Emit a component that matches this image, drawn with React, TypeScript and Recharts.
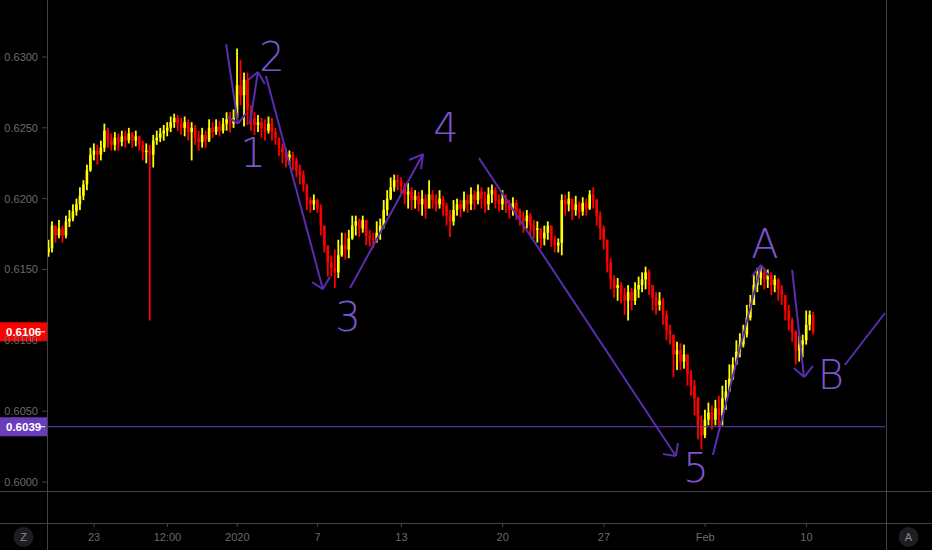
import React from 'react';
import { ComposedChart, Bar, XAxis, YAxis, ReferenceLine, ReferenceDot } from 'recharts';

// ---- data (AUD/USD-style candles) ----
const firstOpen = 0.6162;
const closes = [
  0.6165, 0.6181, 0.6174, 0.6179, 0.6174, 0.6184, 0.6186, 0.6191, 0.6196, 0.6202,
  0.6210, 0.6220, 0.6231, 0.6234, 0.6231, 0.6236, 0.6248, 0.6241, 0.6238, 0.6243,
  0.6240, 0.6244, 0.6241, 0.6246, 0.6241, 0.6244, 0.6238, 0.6233, 0.6234, 0.6231,
  0.6241, 0.6243, 0.6246, 0.6248, 0.6250, 0.6254, 0.6257, 0.6253, 0.6250, 0.6254,
  0.6247, 0.6250, 0.6243, 0.6240, 0.6245, 0.6241, 0.6250, 0.6247, 0.6251, 0.6248,
  0.6253, 0.6256, 0.6253, 0.6257, 0.6280, 0.6273, 0.6284, 0.6263, 0.6257, 0.6252,
  0.6254, 0.6250, 0.6248, 0.6253, 0.6247, 0.6243, 0.6236, 0.6233, 0.6229, 0.6231,
  0.6227, 0.6220, 0.6217, 0.6210, 0.6199, 0.6196, 0.6199, 0.6193, 0.6181, 0.6167,
  0.6155, 0.6151, 0.6148, 0.6160, 0.6167, 0.6164, 0.6172, 0.6181, 0.6184, 0.6179,
  0.6185, 0.6174, 0.6172, 0.6171, 0.6176, 0.6181, 0.6192, 0.6200, 0.6208, 0.6213,
  0.6212, 0.6209, 0.6203, 0.6205, 0.6199, 0.6202, 0.6196, 0.6200, 0.6193, 0.6203,
  0.6199, 0.6196, 0.6200, 0.6195, 0.6188, 0.6184, 0.6192, 0.6196, 0.6193, 0.6199,
  0.6196, 0.6203, 0.6199, 0.6205, 0.6200, 0.6196, 0.6203, 0.6206, 0.6199, 0.6196,
  0.6200, 0.6196, 0.6192, 0.6197, 0.6191, 0.6186, 0.6184, 0.6188, 0.6181, 0.6178,
  0.6179, 0.6172, 0.6176, 0.6181, 0.6171, 0.6167, 0.6169, 0.6199, 0.6196, 0.6200,
  0.6192, 0.6196, 0.6191, 0.6197, 0.6193, 0.6203, 0.6199, 0.6188, 0.6179, 0.6171,
  0.6155, 0.6143, 0.6137, 0.6139, 0.6132, 0.6128, 0.6134, 0.6128, 0.6136, 0.6139,
  0.6143, 0.6148, 0.6139, 0.6130, 0.6125, 0.6128, 0.6118, 0.6107, 0.6104, 0.6090,
  0.6093, 0.6085, 0.6090, 0.6076, 0.6068, 0.6059, 0.6040, 0.6033, 0.6044, 0.6049,
  0.6044, 0.6052, 0.6047, 0.6059, 0.6064, 0.6073, 0.6083, 0.6092, 0.6097, 0.6104,
  0.6116, 0.6125, 0.6139, 0.6144, 0.6148, 0.6143, 0.6146, 0.6139, 0.6143, 0.6136,
  0.6132, 0.6121, 0.6114, 0.6106, 0.6093, 0.6097, 0.6100, 0.6111, 0.6118, 0.6106,
];
const highs = [
  0.6171, 0.6184, 0.6181, 0.6185, 0.6181, 0.6188, 0.6192, 0.6196, 0.6200, 0.6208,
  0.6213, 0.6224, 0.6236, 0.6239, 0.6238, 0.6241, 0.6253, 0.6250, 0.6246, 0.6247,
  0.6246, 0.6248, 0.6248, 0.6250, 0.6247, 0.6248, 0.6244, 0.6241, 0.6239, 0.6238,
  0.6245, 0.6248, 0.6250, 0.6252, 0.6254, 0.6258, 0.6260, 0.6259, 0.6257, 0.6258,
  0.6256, 0.6254, 0.6252, 0.6248, 0.6250, 0.6248, 0.6256, 0.6254, 0.6256, 0.6255,
  0.6257, 0.6261, 0.6261, 0.6263, 0.6306, 0.6298, 0.6289, 0.6289, 0.6266, 0.6261,
  0.6259, 0.6257, 0.6256, 0.6258, 0.6257, 0.6250, 0.6243, 0.6239, 0.6236, 0.6234,
  0.6233, 0.6229, 0.6224, 0.6220, 0.6210, 0.6201, 0.6203, 0.6200, 0.6196, 0.6181,
  0.6167, 0.6160, 0.6164, 0.6171, 0.6176, 0.6176, 0.6178, 0.6188, 0.6188, 0.6186,
  0.6188, 0.6185, 0.6178, 0.6176, 0.6184, 0.6186, 0.6199, 0.6206, 0.6215, 0.6217,
  0.6217, 0.6215, 0.6211, 0.6211, 0.6208, 0.6206, 0.6205, 0.6206, 0.6203, 0.6213,
  0.6206, 0.6203, 0.6206, 0.6202, 0.6197, 0.6192, 0.6199, 0.6200, 0.6199, 0.6205,
  0.6203, 0.6208, 0.6206, 0.6210, 0.6208, 0.6205, 0.6208, 0.6210, 0.6208, 0.6203,
  0.6206, 0.6203, 0.6199, 0.6201, 0.6199, 0.6193, 0.6191, 0.6192, 0.6190, 0.6185,
  0.6184, 0.6179, 0.6181, 0.6184, 0.6181, 0.6174, 0.6172, 0.6203, 0.6203, 0.6205,
  0.6200, 0.6202, 0.6198, 0.6201, 0.6200, 0.6206, 0.6208, 0.6200, 0.6191, 0.6181,
  0.6171, 0.6158, 0.6146, 0.6144, 0.6141, 0.6137, 0.6139, 0.6137, 0.6141, 0.6145,
  0.6148, 0.6152, 0.6150, 0.6139, 0.6134, 0.6134, 0.6130, 0.6121, 0.6111, 0.6104,
  0.6099, 0.6098, 0.6097, 0.6090, 0.6079, 0.6072, 0.6060, 0.6047, 0.6051, 0.6056,
  0.6054, 0.6058, 0.6061, 0.6068, 0.6072, 0.6083, 0.6088, 0.6100, 0.6105, 0.6111,
  0.6125, 0.6132, 0.6146, 0.6151, 0.6153, 0.6151, 0.6150, 0.6148, 0.6146, 0.6144,
  0.6139, 0.6132, 0.6125, 0.6116, 0.6107, 0.6103, 0.6104, 0.6121, 0.6121, 0.6120,
];
const lows = [
  0.6159, 0.6162, 0.6169, 0.6172, 0.6169, 0.6172, 0.6180, 0.6184, 0.6188, 0.6192,
  0.6199, 0.6206, 0.6219, 0.6227, 0.6224, 0.6227, 0.6233, 0.6236, 0.6234, 0.6234,
  0.6234, 0.6237, 0.6236, 0.6239, 0.6236, 0.6237, 0.6234, 0.6227, 0.6225, 0.6114,
  0.6222, 0.6238, 0.6240, 0.6241, 0.6244, 0.6247, 0.6250, 0.6248, 0.6245, 0.6244,
  0.6241, 0.6227, 0.6238, 0.6234, 0.6236, 0.6236, 0.6240, 0.6243, 0.6245, 0.6244,
  0.6246, 0.6248, 0.6247, 0.6250, 0.6256, 0.6266, 0.6251, 0.6252, 0.6248, 0.6245,
  0.6247, 0.6243, 0.6241, 0.6246, 0.6241, 0.6238, 0.6230, 0.6225, 0.6222, 0.6224,
  0.6220, 0.6215, 0.6210, 0.6205, 0.6192, 0.6190, 0.6192, 0.6190, 0.6174, 0.6162,
  0.6145, 0.6145, 0.6137, 0.6144, 0.6159, 0.6157, 0.6158, 0.6171, 0.6174, 0.6173,
  0.6176, 0.6167, 0.6166, 0.6165, 0.6169, 0.6171, 0.6179, 0.6188, 0.6199, 0.6205,
  0.6206, 0.6204, 0.6196, 0.6193, 0.6192, 0.6193, 0.6191, 0.6188, 0.6186, 0.6196,
  0.6193, 0.6191, 0.6193, 0.6188, 0.6181, 0.6173, 0.6181, 0.6188, 0.6187, 0.6191,
  0.6190, 0.6192, 0.6192, 0.6196, 0.6193, 0.6190, 0.6192, 0.6197, 0.6193, 0.6191,
  0.6192, 0.6190, 0.6186, 0.6188, 0.6185, 0.6181, 0.6176, 0.6179, 0.6174, 0.6172,
  0.6169, 0.6165, 0.6167, 0.6171, 0.6166, 0.6162, 0.6162, 0.6160, 0.6188, 0.6191,
  0.6185, 0.6188, 0.6186, 0.6188, 0.6188, 0.6192, 0.6193, 0.6181, 0.6171, 0.6164,
  0.6148, 0.6136, 0.6130, 0.6128, 0.6126, 0.6118, 0.6114, 0.6121, 0.6125, 0.6130,
  0.6134, 0.6136, 0.6132, 0.6121, 0.6118, 0.6121, 0.6111, 0.6100, 0.6097, 0.6074,
  0.6079, 0.6079, 0.6080, 0.6068, 0.6061, 0.6047, 0.6030, 0.6023, 0.6031, 0.6040,
  0.6037, 0.6040, 0.6039, 0.6040, 0.6051, 0.6064, 0.6072, 0.6083, 0.6088, 0.6095,
  0.6102, 0.6114, 0.6125, 0.6134, 0.6139, 0.6136, 0.6137, 0.6132, 0.6134, 0.6128,
  0.6125, 0.6114, 0.6107, 0.6099, 0.6083, 0.6085, 0.6088, 0.6097, 0.6107, 0.6104,
];

const totalSlots = 240; // candle slots incl. empty space on the right
const xTickIndex = [13, 34, 54, 77, 101, 130, 159, 188, 217];
const xTickLabels = ['23', '12:00', '2020', '7', '13', '20', '27', 'Feb', '10'];
const priceTicks = [0.6, 0.605, 0.61, 0.615, 0.62, 0.625, 0.63];
const priceDomain = [0.597106, 0.634024];
const markedLevel = 0.6039;

// wave drawing segments: [index1, price1, index2, price2]
const waveSegments = [
  [50.8, 0.6309, 54.2, 0.6253],
  [51.3, 0.62577, 54.2, 0.6253],
  [54.2, 0.6253, 56.5, 0.6260],
  [57.6, 0.62527, 59.9, 0.62894],
  [57.1, 0.62838, 59.9, 0.62894],
  [59.9, 0.62894, 61.9, 0.62809],
  [62.2, 0.62866, 78.5, 0.61362],
  [75.4, 0.61412, 78.5, 0.61362],
  [78.5, 0.61362, 80.5, 0.61447],
  [86.3, 0.61369, 107.2, 0.62315],
  [103.2, 0.62273, 107.2, 0.62315],
  [107.2, 0.62315, 106.6, 0.62209],
  [123.2, 0.62287, 179.6, 0.60184],
  [175.9, 0.60198, 179.6, 0.60184],
  [180.2, 0.60275, 179.6, 0.60184],
  [190.2, 0.60191, 204.0, 0.61532],
  [201.4, 0.61454, 204.0, 0.61532],
  [204.0, 0.61532, 206.3, 0.61454],
  [212.9, 0.61497, 216.3, 0.60741],
  [213.4, 0.60805, 216.3, 0.60741],
  [216.3, 0.60741, 218.9, 0.60819],
  [228.0, 0.60826, 239.5, 0.61193],
];
const waveLabelText = ['1', '2', '3', '4', '5', 'A', 'B'];
const waveLabelIndex = [58.5, 63.9, 85.7, 113.8, 185.4, 205.1, 224.0];
const waveLabelPrice = [0.62322, 0.6300, 0.61165, 0.62499, 0.60099, 0.6168, 0.60755];

// ---- table for the chart ----
const data = Array.from({ length: totalSlots }, (_, i) => {
  if (i < closes.length) {
    const o = i === 0 ? firstOpen : closes[i - 1];
    return { i, o, c: closes[i], h: highs[i], l: lows[i], range: [lows[i], highs[i]] };
  }
  return { i, range: null };
});
const lastClose = closes[closes.length - 1];

const UP = '#ffff00';
const DOWN = '#ff0000';
const GRID = '#434343';
const AXIS_TEXT = '#6a6a6a';
const WAVE_LINE = '#5a2db0';
const WAVE_TEXT = '#7c55cc';
const LEVEL = '#6a3dbd';
const FONT = '"Liberation Sans", Arial, sans-serif';

const Candle = (props: any) => {
  const { x, y, width, height, payload } = props;
  if (!payload || payload.h == null || !isFinite(y) || !isFinite(height)) return null;
  const top = Math.min(y, y + height);
  const bot = Math.max(y, y + height);
  const span = payload.h - payload.l || 1e-9;
  const py = (v: number) => top + ((payload.h - v) / span) * (bot - top);
  const up = payload.c >= payload.o;
  const color = up ? UP : DOWN;
  const cx = x + width / 2;
  const yo = py(payload.o);
  const yc = py(payload.c);
  const bt = Math.min(yo, yc);
  const bh = Math.max(Math.abs(yo - yc), 1.5);
  const bw = Math.max(width - 0.4, 1);
  return (
    <g>
      <rect x={cx - 0.9} y={top} width={1.8} height={Math.max(bot - top, 1)} fill={color} />
      <rect x={cx - bw / 2} y={bt} width={bw} height={bh} fill={color} />
    </g>
  );
};

const PriceTag = (props: any) => {
  const { viewBox, text, fill } = props;
  if (!viewBox) return null;
  const y = viewBox.y;
  const x0 = viewBox.x - 47;
  return (
    <g>
      <rect x={x0} y={y - 9.5} width={47} height={19} fill={fill} />
      <text x={x0 + 6} y={y + 4} fill="#ffffff" fontSize={11.5} fontWeight="bold" fontFamily={FONT}>
        {text}
      </text>
      <line x1={x0 + 40} x2={x0 + 45} y1={y} y2={y} stroke="#ffffff" strokeWidth={1} />
    </g>
  );
};

const WaveText = (text: string) => (props: any) => {
  const { cx, cy } = props;
  return (
    <text
      x={cx}
      y={cy}
      textAnchor="middle"
      dominantBaseline="central"
      fill={WAVE_TEXT}
      fontSize={40}
      fontWeight={300}
      fontFamily='"DejaVu Sans", sans-serif'
    >
      {text}
    </text>
  );
};

export default function App() {
  return (
    <div style={{ position: 'fixed', left: 0, top: 0, width: 932, height: 550, background: '#000000', overflow: 'hidden' }}>
      <ComposedChart
        width={932}
        height={550}
        data={data}
        margin={{ top: 0, right: 47, bottom: 0, left: 0 }}
        barCategoryGap={0}
        barGap={0}
      >
        <XAxis
          dataKey="i"
          type="category"
          ticks={xTickIndex}
          interval={0}
          tickFormatter={(v: number) => xTickLabels[xTickIndex.indexOf(v)] ?? ''}
          axisLine={false}
          tickLine={{ stroke: GRID }}
          tickSize={4}
          tickMargin={6}
          height={27}
          tick={{ fill: AXIS_TEXT, fontSize: 11, fontFamily: FONT }}
        />
        <XAxis xAxisId="num" dataKey="i" type="number" domain={[-0.5, totalSlots - 0.5]} allowDataOverflow hide />
        <YAxis
          orientation="left"
          width={47}
          domain={priceDomain}
          allowDataOverflow
          ticks={priceTicks}
          interval={0}
          tickFormatter={(v: number) => v.toFixed(4)}
          axisLine={false}
          tickLine={{ stroke: GRID }}
          tickSize={5}
          tickMargin={4}
          tick={{ fill: AXIS_TEXT, fontSize: 11, fontFamily: FONT }}
        />
        <Bar dataKey="range" shape={Candle} isAnimationActive={false} />
        <ReferenceLine
          y={markedLevel}
          stroke={LEVEL}
          strokeWidth={1}
          ifOverflow="visible"
          label={(p: any) => <PriceTag {...p} text={markedLevel.toFixed(4)} fill={LEVEL} />}
        />
        <ReferenceLine
          y={lastClose}
          stroke="none"
          ifOverflow="visible"
          label={(p: any) => <PriceTag {...p} text={lastClose.toFixed(4)} fill="#ff0000" />}
        />
        {waveSegments.map((s, k) => (
          <ReferenceLine
            key={'w' + k}
            xAxisId="num"
            segment={[{ x: s[0], y: s[1] }, { x: s[2], y: s[3] }]}
            stroke={WAVE_LINE}
            strokeWidth={2}
            ifOverflow="visible"
          />
        ))}
        {waveLabelText.map((t, k) => (
          <ReferenceDot
            key={'t' + k}
            xAxisId="num"
            x={waveLabelIndex[k]}
            y={waveLabelPrice[k]}
            r={0}
            ifOverflow="visible"
            shape={WaveText(t)}
          />
        ))}
      </ComposedChart>
      <svg
        width={932}
        height={550}
        style={{ position: 'absolute', left: 0, top: 0, pointerEvents: 'none' }}
      >
        <line x1={47.5} x2={47.5} y1={0} y2={550} stroke={GRID} />
        <line x1={886.5} x2={886.5} y1={0} y2={550} stroke={GRID} />
        <line x1={0} x2={932} y1={491.5} y2={491.5} stroke={GRID} />
        <line x1={0} x2={932} y1={523.5} y2={523.5} stroke={GRID} />
        <circle cx={23.5} cy={537} r={10} fill="#1d1d22" />
        <text x={23.5} y={541} textAnchor="middle" fill="#8a8a8a" fontSize={11} fontFamily={FONT}>Z</text>
        <circle cx={908.5} cy={537} r={10} fill="#1d1d22" />
        <text x={908.5} y={541} textAnchor="middle" fill="#8a8a8a" fontSize={11} fontFamily={FONT}>A</text>
      </svg>
    </div>
  );
}
